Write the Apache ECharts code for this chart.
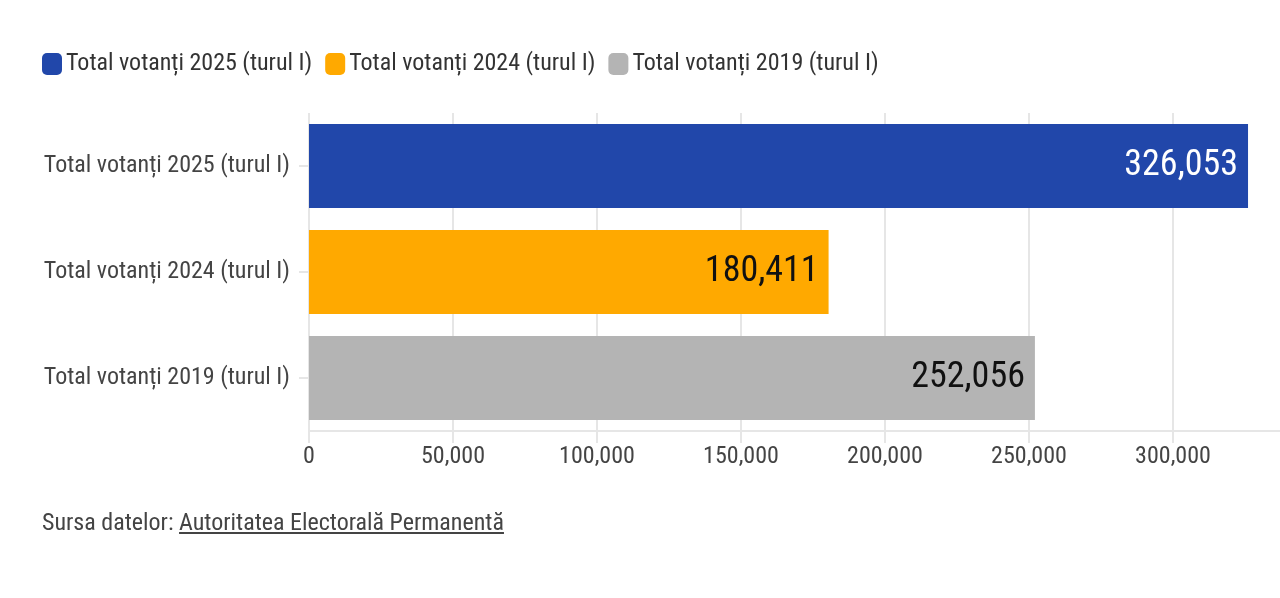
<!DOCTYPE html>
<html>
<head>
    <meta charset="utf-8">
    <title>Total votanți</title>
    <style>
        html, body { margin: 0; padding: 0; background: #fff; overflow: hidden; }
        #charts { width: 1280px; height: 598px; }
        .source {
            position: absolute; left: 42px; top: 508px;
            font-family: "Roboto Condensed", "Liberation Sans Narrow", "DejaVu Sans Condensed", sans-serif;
            font-size: 24px; color: #444;
        }
        .source span { text-decoration: underline; }
    </style>
</head>
<body>
<div id="charts"></div>
<div class="source">Sursa datelor: <span>Autoritatea Electorală Permanentă</span></div>
<script src="https://cdn.jsdelivr.net/npm/echarts@6/dist/echarts.min.js"></script>
<script>
var categories = ['Total votanți 2025 (turul I)', 'Total votanți 2024 (turul I)', 'Total votanți 2019 (turul I)'];
var values = [326053, 180411, 252056];
var colors = ['#2147aa', '#ffa900', '#b4b4b4'];
var labelColors = ['#ffffff', '#111111', '#111111'];

var font = '"Roboto Condensed", "Liberation Sans Narrow", "DejaVu Sans Condensed", sans-serif';
var fmt = function (v) { return v.toLocaleString('en-US'); };

var myChart = echarts.init(document.getElementById('charts'));

// one series per category so the legend shows all three
var series = categories.map(function (c, i) {
    var data = categories.map(function (_, j) { return j === i ? values[i] : '-'; });
    return {
        name: c,
        type: 'bar',
        stack: 'all',
        data: data,
        barWidth: 84,
        itemStyle: { color: colors[i] },
        label: {
            show: true,
            position: 'insideRight',
            distance: 10,
            color: labelColors[i],
            fontFamily: font,
            fontSize: 36,
            formatter: function (p) { return fmt(p.value); }
        }
    };
});

var option = {
    animation: false,
    textStyle: { fontFamily: font },
    legend: {
        left: 37,
        top: 47,
        itemWidth: 20,
        itemHeight: 22,
        itemGap: 13,
        icon: 'roundRect',
        textStyle: { fontFamily: font, fontSize: 24, color: '#333', padding: [0, 0, 0, -1] },
        data: categories
    },
    grid: {
        left: 309,
        right: -37,
        top: 113,
        bottom: 167,
        outerBoundsMode: 'none',
        containLabel: false
    },
    xAxis: {
        type: 'value',
        min: 0,
        max: 350000,
        interval: 50000,
        axisLine: { show: true, lineStyle: { color: '#e6e6e6', width: 2 } },
        axisTick: { show: true, length: 12, lineStyle: { color: '#e6e6e6', width: 2 } },
        splitLine: { show: true, lineStyle: { color: '#e6e6e6', width: 2 } },
        axisLabel: {
            fontFamily: font, fontSize: 24, color: '#444', margin: 14,
            hideOverlap: false,
            showMaxLabel: true,
            formatter: fmt
        }
    },
    yAxis: {
        type: 'category',
        inverse: true,
        data: categories,
        axisLine: { show: false },
        axisTick: { show: true, length: 10, alignWithLabel: true, lineStyle: { color: '#e6e6e6', width: 2 } },
        axisLabel: { fontFamily: font, fontSize: 24, color: '#444', margin: 19 }
    },
    series: series
};

myChart.setOption(option);
</script>
</body>
</html>
